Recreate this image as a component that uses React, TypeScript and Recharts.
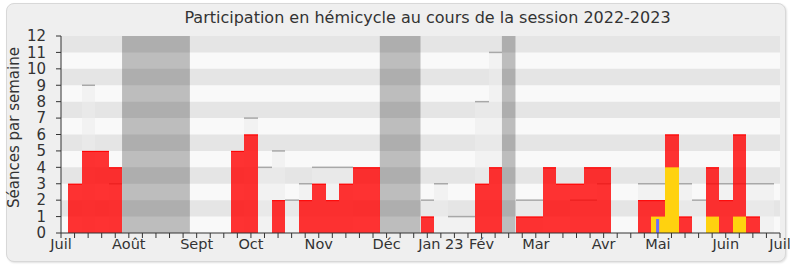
import React from "react";
import {
  BarChart,
  Bar,
  XAxis,
  YAxis,
  ReferenceArea,
  Label,
} from "recharts";

// semaines de la session (centre de chaque barre)
const weeks = [
  1, 2, 3, 4, 5, 6, 7, 8, 9, 10, 11, 12, 13, 14, 15, 16, 17, 18, 19, 20, 21, 22, 23, 24, 25, 26,
  27, 28, 29, 30, 31, 32, 33, 34, 35, 36, 37, 38, 39, 40, 41, 42, 43, 44, 45, 46, 47, 48, 49, 50, 51, 52,
];

// présences du député (rouge)
const presences = [
  3, 5, 5, 4, null, null, null, null, null, null, null, null, 5, 6, null, 2, null, 2, 3, 2, 3, 4, 4, null, null, null,
  1, null, null, null, 3, 4, null, 1, 1, 4, 3, 3, 4, 4, null, null, 2, 2, 6, 1, null, 4, 2, 6, 1, null,
];

// médiane des députés (gris)
const medianes = [
  null, 9, null, 3, null, null, null, null, null, null, null, null, null, 7, 4, 5, 2, 3, 4, 4, 4, null, null, null, null, null,
  2, 3, 1, 1, 8, 11, null, 2, 2, null, null, 2, 2, 3, null, null, 3, 3, 3, 3, 2, 3, 3, 3, 3, 3,
];

// interventions (jaune)
const interventions = [
  null, null, null, null, null, null, null, null, null, null, null, null, null, null, null, null, null, null, null, null, null, null, null, null, null, null,
  null, null, null, null, null, null, null, null, null, null, null, null, null, null, null, null, null, 1, 4, null, null, 1, null, 1, null, null,
];

// questions (bleu)
const questions = [
  null, null, null, null, null, null, null, null, null, null, null, null, null, null, null, null, null, null, null, null, null, null, null, null, null, null,
  null, null, null, null, null, null, null, null, null, null, null, null, null, null, null, null, null, 0.85, null, null, null, null, null, null, null, null,
];

// vacances parlementaires [première semaine, dernière semaine]
const vacances: [number, number][] = [
  [5, 9],
  [24, 26],
  [33, 33],
];

const monthTicks = [0, 5, 10, 14, 19, 24, 28, 31, 35, 40, 44, 49, 53];
const monthLabels = ["Juil", "Août", "Sept", "Oct", "Nov", "Déc", "Jan 23", "Fév", "Mar", "Avr", "Mai", "Juin", "Juil"];

const yTicks = [0, 1, 2, 3, 4, 5, 6, 7, 8, 9, 10, 11, 12];
const darkStripes = [1, 3, 5, 7, 9, 11];

const data = weeks.map((w, i) => ({
  week: w,
  presence: presences[i],
  mediane: medianes[i],
  intervention: interventions[i],
  question: questions[i],
}));

const W = 790;
const H = 267;
const PLOT_W = 719;
const BAR_W = PLOT_W / 53;
const allTicks = Array.from({ length: 54 }, (_, i) => i);
const FONT = "'DejaVu Sans', Verdana, sans-serif";
const TXT = "#333";

// snap a full-week bar to whole pixels so neighbours touch without seams
function snap(x: number, width: number) {
  const c = x + width / 2;
  const x0 = Math.round(c - BAR_W / 2);
  const x1 = Math.round(c + BAR_W / 2);
  return { x0, w: x1 - x0 };
}

function RedBar(p: any) {
  const { x, y, width, height } = p;
  if (!height || height <= 0) return null;
  const { x0, w } = snap(x, width);
  return (
    <g>
      <rect x={x0} y={y} width={w} height={height} fill="rgba(255,0,0,0.8)" />
      <line x1={x0} x2={x0 + w} y1={y + 0.5} y2={y + 0.5} stroke="#ff0000" strokeWidth={1} />
    </g>
  );
}

function MedianBar(p: any) {
  const { x, y, width, height } = p;
  if (!height || height <= 0) return null;
  const { x0, w } = snap(x, width);
  return (
    <g>
      <rect x={x0} y={y} width={w} height={height} fill="rgba(236,236,236,0.55)" />
      <line x1={x0} x2={x0 + w} y1={y} y2={y} stroke="#a8a8a8" strokeWidth={1.5} />
    </g>
  );
}

function YellowBar(p: any) {
  const { x, y, width, height, fill } = p;
  if (!height || height <= 0) return null;
  const { x0, w } = snap(x, width);
  return <rect x={x0} y={y} width={w} height={height} fill={fill} />;
}

function ThinBar(p: any) {
  const { x, y, width, height, fill } = p;
  if (!height || height <= 0) return null;
  return <rect x={x} y={y} width={width} height={height} fill={fill} />;
}

export default function App() {
  const labelOf = (v: number) => {
    const k = monthTicks.indexOf(v);
    return k >= 0 ? monthLabels[k] : "";
  };

  return (
    <div style={{ position: "relative", width: W, height: H, background: "#fff", fontFamily: FONT }}>
      <style>{`body{margin:0}`}</style>
      <div
        style={{
          position: "absolute",
          left: 6,
          top: 3,
          width: 778,
          height: 257,
          background: "#efefef",
          border: "1px solid #d8d8d8",
          borderRadius: 8,
          boxShadow: "1px 1px 2px rgba(0,0,0,0.12)",
        }}
      />
      <div
        style={{
          position: "absolute",
          left: 75,
          width: 705,
          top: 8,
          textAlign: "center",
          fontSize: 16,
          lineHeight: "19px",
          color: TXT,
        }}
      >
        Participation en hémicycle au cours de la session 2022-2023
      </div>
      <div style={{ position: "absolute", left: 0, top: 0 }}>
        <BarChart
          width={W}
          height={H}
          data={data}
          margin={{ top: 36, right: 10, bottom: 4, left: 11 }}
          barGap={0}
          barCategoryGap={0}
        >
          <XAxis
            xAxisId="main"
            dataKey="week"
            type="number"
            domain={[0, 53]}
            ticks={allTicks}
            interval={0}
            tickFormatter={labelOf}
            tickSize={5}
            tickMargin={1}
            height={30}
            stroke="#333"
            tick={{ fill: TXT, fontSize: 14.5, fontFamily: FONT }}
            allowDecimals={false}
          />
          <XAxis
            xAxisId="top"
            orientation="top"
            dataKey="week"
            type="number"
            domain={[0, 53]}
            ticks={allTicks}
            interval={0}
            tickFormatter={() => ""}
            tickSize={2}
            height={0}
            axisLine={false}
            stroke="#333"
          />
          <XAxis xAxisId="y" orientation="top" dataKey="week" type="number" domain={[0, 53]} height={0} hide />
          <XAxis xAxisId="b" orientation="top" dataKey="week" type="number" domain={[0, 53]} height={0} hide />
          <YAxis
            domain={[0, 12]}
            ticks={yTicks}
            interval={0}
            width={50}
            tickSize={5}
            tickMargin={10}
            stroke="#333"
            tick={{ fill: TXT, fontSize: 15, fontFamily: FONT }}
          >
            <Label
              content={(props: any) => {
                const vb = props.viewBox;
                const cx = vb.x + 3;
                const cy = vb.y + vb.height / 2 - 7;
                return (
                  <text
                    x={cx}
                    y={cy}
                    transform={`rotate(-90 ${cx} ${cy})`}
                    textAnchor="middle"
                    dominantBaseline="central"
                    fill={TXT}
                    fontSize={15}
                    fontFamily={FONT}
                  >
                    Séances par semaine
                  </text>
                );
              }}
            />
          </YAxis>
          <YAxis
            yAxisId="right"
            orientation="right"
            domain={[0, 12]}
            width={0}
            tick={false}
            tickLine={false}
            stroke="#c4c4c4"
          />

          <ReferenceArea xAxisId="main" x1={0} x2={53} y1={0} y2={12} fill="#f9f9f9" fillOpacity={1} stroke="none" />
          {vacances.map(([a, b]) => (
            <ReferenceArea
              key={`v${a}`}
              xAxisId="main"
              x1={a - 0.5}
              x2={b + 0.5}
              y1={0}
              y2={12}
              fill="#bdbdbd"
              fillOpacity={1}
              stroke="none"
            />
          ))}
          {darkStripes.map((s) => (
            <ReferenceArea
              key={`s${s}`}
              xAxisId="main"
              x1={0}
              x2={53}
              y1={s}
              y2={s + 1}
              fill="#000"
              fillOpacity={0.08}
              stroke="none"
            />
          ))}

          <Bar xAxisId="top" dataKey="mediane" barSize={BAR_W} shape={MedianBar} isAnimationActive={false} />
          <Bar xAxisId="main" dataKey="presence" barSize={BAR_W} shape={RedBar} isAnimationActive={false} />
          <Bar
            xAxisId="y"
            dataKey="intervention"
            barSize={BAR_W}
            fill="#ffd20f"
            shape={YellowBar}
            isAnimationActive={false}
          />
          <Bar
            xAxisId="b"
            dataKey="question"
            barSize={3}
            fill="#6b6bff"
            shape={ThinBar}
            isAnimationActive={false}
          />
        </BarChart>
      </div>
    </div>
  );
}
